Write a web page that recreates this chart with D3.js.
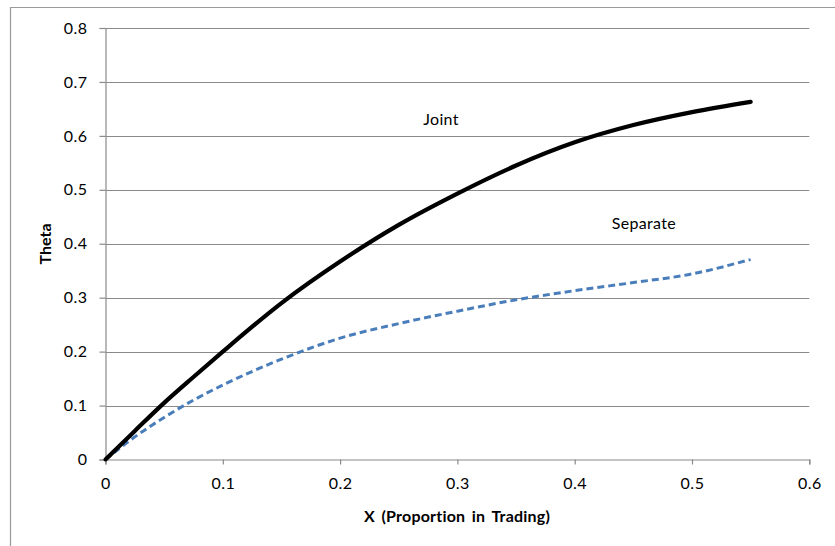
<!DOCTYPE html>
<html>
<head>
<meta charset="utf-8">
<script src="https://cdn.jsdelivr.net/npm/d3@7"></script>
<style>
  html, body { margin: 0; padding: 0; background: #fff; }
  svg { display: block; }
  text { font-family: "Lato", "Open Sans", "Liberation Sans", sans-serif; fill: #000; }
</style>
</head>
<body>
<svg id="chart" width="835" height="546"></svg>
<script>
// Proportion in trading (x) and estimated theta for the two models
const jointX = [0, 0.025, 0.05, 0.075, 0.1, 0.15, 0.2, 0.25, 0.3, 0.35, 0.4, 0.45, 0.5, 0.55];
const jointY = [0, 0.053, 0.105, 0.153, 0.2, 0.29, 0.367, 0.435, 0.493, 0.545, 0.588, 0.62, 0.644, 0.663];

const separateX = [0, 0.025, 0.05, 0.075, 0.1, 0.15, 0.2, 0.25, 0.3, 0.35, 0.4, 0.45, 0.5, 0.55];
const separateY = [0, 0.042, 0.078, 0.11, 0.138, 0.186, 0.225, 0.252, 0.275, 0.296, 0.313, 0.328, 0.344, 0.371];

const xTicks = [0, 0.1, 0.2, 0.3, 0.4, 0.5, 0.6];
const yTicks = [0, 0.1, 0.2, 0.3, 0.4, 0.5, 0.6, 0.7, 0.8];

// Series labels placed in data coordinates
const seriesNames = ["Joint", "Separate"];
const labelX = [0.286, 0.459];
const labelY = [0.63, 0.438];

const svg = d3.select("#chart");

const x = d3.scaleLinear().domain([0, 0.6]).range([105.5, 809.3]);
const y = d3.scaleLinear().domain([0, 0.8]).range([459.5, 28]);

const gridColor = "#8a8a8a";
const fontSize = 16;

// Outer chart frame (top and left edges visible)
svg.append("path")
  .attr("d", "M10.5,546 V7.5 H835")
  .attr("fill", "none")
  .attr("stroke", "#9a9a9a")
  .attr("stroke-width", 1.2);

// Horizontal gridlines
svg.append("g")
  .selectAll("line")
  .data(yTicks.filter(d => d > 0))
  .join("line")
  .attr("x1", x(0)).attr("x2", x(0.6))
  .attr("y1", d => Math.round(y(d)) + 0.5)
  .attr("y2", d => Math.round(y(d)) + 0.5)
  .attr("stroke", gridColor)
  .attr("stroke-width", 1.2);

const fmt = d => d === 0 ? "0" : d3.format(".1f")(d);

// Y axis
const yAxis = svg.append("g")
  .attr("transform", `translate(${x(0)},0)`)
  .call(d3.axisLeft(y).tickValues(yTicks).tickFormat(fmt).tickSize(6).tickPadding(12));
yAxis.select(".domain").attr("stroke", gridColor).attr("stroke-width", 1.2);
yAxis.selectAll(".tick line").attr("stroke", gridColor).attr("stroke-width", 1.2);
yAxis.selectAll(".tick text")
  .attr("font-size", fontSize)
  .attr("font-family", "Lato, 'Open Sans', sans-serif")
  .attr("letter-spacing", 0.5)
  .attr("fill", "#000");

// X axis
const xAxis = svg.append("g")
  .attr("transform", `translate(0,${y(0)})`)
  .call(d3.axisBottom(x).tickValues(xTicks).tickFormat(fmt).tickSize(5).tickPadding(13));
xAxis.select(".domain").attr("stroke", gridColor).attr("stroke-width", 1.2);
xAxis.selectAll(".tick line").attr("stroke", gridColor).attr("stroke-width", 1.2);
xAxis.selectAll(".tick text")
  .attr("font-size", fontSize)
  .attr("font-family", "Lato, 'Open Sans', sans-serif")
  .attr("letter-spacing", 0.5)
  .attr("fill", "#000");

// Axis titles
svg.append("text")
  .attr("transform", "translate(51,244) rotate(-90)")
  .attr("text-anchor", "middle")
  .attr("font-size", fontSize)
  .attr("font-weight", "bold")
  .text("Theta");

svg.append("text")
  .attr("x", 457)
  .attr("y", 522)
  .attr("text-anchor", "middle")
  .attr("font-size", fontSize)
  .attr("font-weight", "bold")
  .attr("letter-spacing", 0.2)
  .attr("word-spacing", 2.5)
  .text("X (Proportion in Trading)");

// Curves
const line = d3.line()
  .x(d => x(d[0]))
  .y(d => y(d[1]))
  .curve(d3.curveMonotoneX);

const separateData = separateX.map((v, i) => [v, separateY[i]]);
const jointData = jointX.map((v, i) => [v, jointY[i]]);

svg.append("path")
  .datum(separateData)
  .attr("d", line)
  .attr("fill", "none")
  .attr("stroke", "#4a7ebb")
  .attr("stroke-width", 3)
  .attr("stroke-dasharray", "7,4");

svg.append("path")
  .datum(jointData)
  .attr("d", line)
  .attr("fill", "none")
  .attr("stroke", "#000")
  .attr("stroke-width", 4.2)
  .attr("stroke-linecap", "round")
  .attr("stroke-linejoin", "round");

// Series labels
svg.append("g")
  .selectAll("text")
  .data(seriesNames)
  .join("text")
  .attr("x", (d, i) => x(labelX[i]))
  .attr("y", (d, i) => y(labelY[i]))
  .attr("dy", "0.35em")
  .attr("text-anchor", "middle")
  .attr("font-size", fontSize)
  .attr("letter-spacing", 0.3)
  .text(d => d);
</script>
</body>
</html>
